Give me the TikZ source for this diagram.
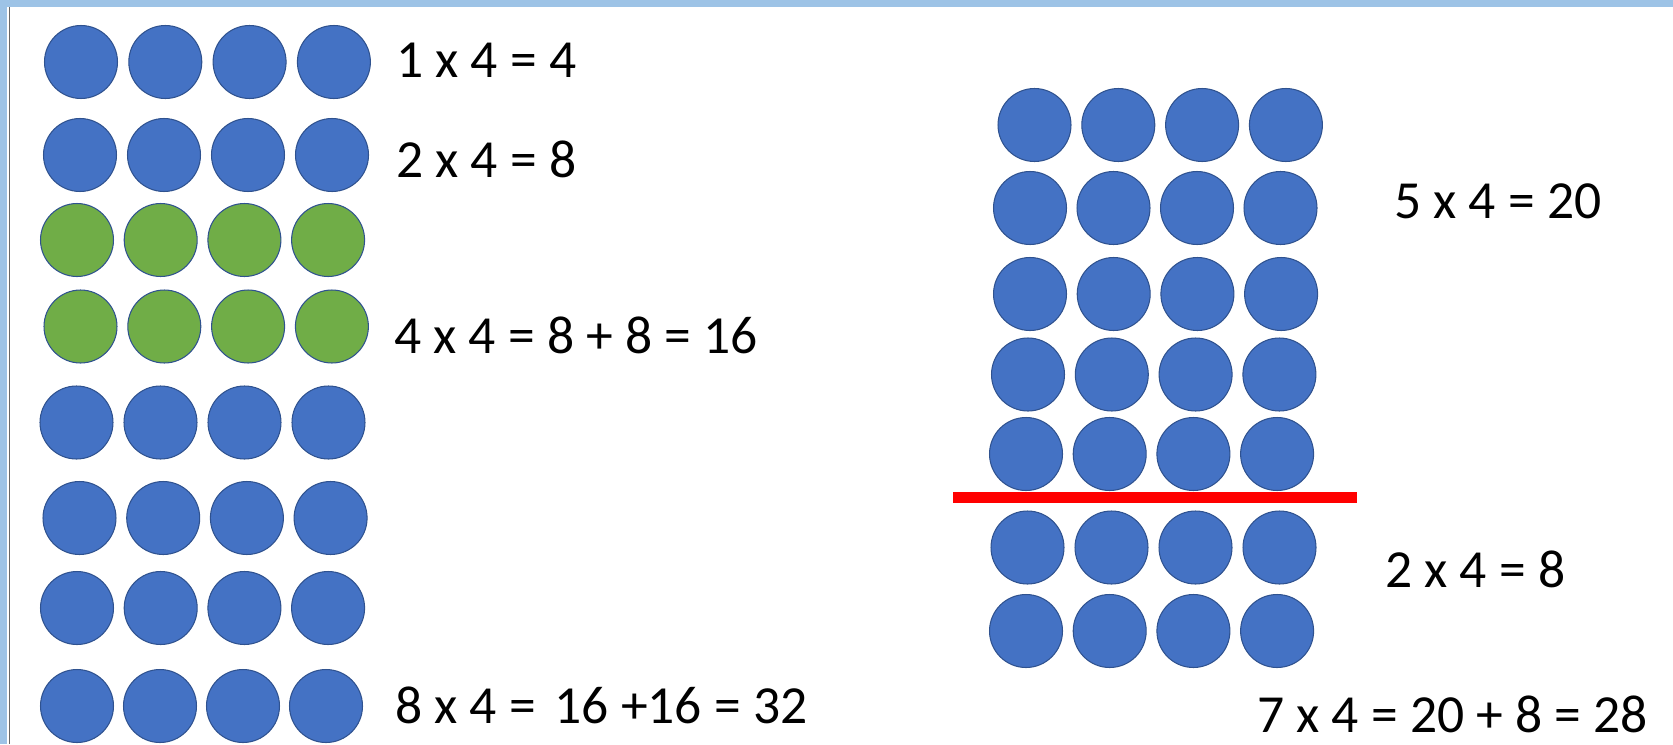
\documentclass[tikz,border=0pt]{standalone}
\usepackage{fontspec}
\setmainfont{Carlito}
\usepackage{tikz}
\usetikzlibrary{positioning}
\definecolor{dotblue}{HTML}{4472C4}
\definecolor{dotedge}{HTML}{2F528F}
\definecolor{dotgreen}{HTML}{70AD47}
\definecolor{framebar}{HTML}{9DC3E6}
\definecolor{cutred}{HTML}{FF0000}
\tikzset{
  counter/.style  = {circle, draw=dotedge, line width=0.6pt, fill=dotblue,
                     minimum size=1.46cm, inner sep=0pt},
  gcounter/.style = {counter, fill=dotgreen},
  sumtext/.style  = {anchor=base west, inner sep=0pt,
                     font=\fontsize{30.5}{36}\selectfont},
  cutline/.style  = {cutred, line width=0.22cm},
}
\newcommand{\counterrow}[5]{%
  \foreach \k in {1,...,4}
    \node[#5] (#1-\k) at ({#2+(\k-1)*#4}, #3) {};
}

\begin{document}
\begin{tikzpicture}[x=0.02cm, y=-0.02cm]
  \useasboundingbox (0,0) rectangle (1673,744);
  \fill[framebar] (0,0) rectangle (1673,7);
  \fill[framebar] (0,0) rectangle (7,744);
  \draw[gray!80!black, line width=0.035cm] (9.5,7) -- (9.5,744);

  \counterrow{a}{81}{62}{84.3}{counter}
  \counterrow{b}{80}{155}{84}{counter}
  \counterrow{c}{77}{240}{83.7}{gcounter}
  \counterrow{d}{80.5}{326.5}{83.8}{gcounter}
  \counterrow{e}{76.5}{422.5}{84}{counter}
  \counterrow{f}{79.5}{518}{83.7}{counter}
  \counterrow{g}{77}{608}{83.7}{counter}
  \counterrow{h}{77}{706}{83}{counter}

  \counterrow{p}{1034.5}{125}{83.8}{counter}
  \counterrow{q}{1030}{208}{83.5}{counter}
  \counterrow{r}{1030}{294}{83.7}{counter}
  \counterrow{s}{1028}{374.5}{83.8}{counter}
  \counterrow{t}{1026}{454}{83.7}{counter}
  \counterrow{u}{1027.5}{547.5}{84}{counter}
  \counterrow{v}{1026}{631}{83.7}{counter}

  \coordinate (cut-w) at (953,497.5);
  \coordinate (cut-e) at (1357,497.5);
  \draw[cutline] (cut-w) -- (cut-e);

  \node[sumtext] (one)   at (396,77)   {1 x 4 = 4};
  \node[sumtext] (two)   at (396,177)  {2 x 4 = 8};
  \node[sumtext] (four)  at (394,353)  {4 x 4 = 8 + 8 = 16};
  \node[sumtext] (eight) at (395,723)  {8 x 4 =\hspace{0.35em}16 +16 = 32};
  \node[sumtext] (five)  at (1394,218) {5 x 4 = 20};
  \node[sumtext] (twoR)  at (1385,587) {2 x 4 = 8};
  \node[sumtext] (seven) at (1257,732) {7 x 4 = 20 + 8 = 28};
\end{tikzpicture}
\end{document}
